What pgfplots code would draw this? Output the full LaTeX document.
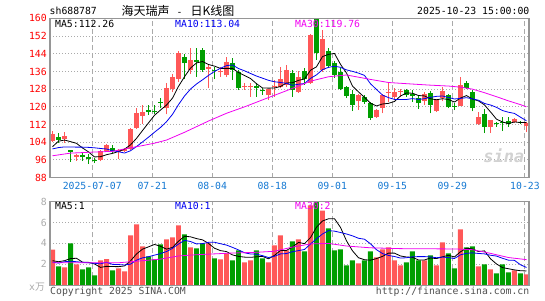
\documentclass[border=0pt]{standalone}
\usepackage{pgfplots}
\pgfplotsset{compat=1.18}
\usepackage{pgfplotstable}
\usepackage{fontspec}
\setmainfont{DejaVu Sans Mono}
\newfontfamily\cjk{Noto Sans CJK SC}
\definecolor{upred}{RGB}{255,88,88}
\definecolor{dngreen}{RGB}{0,158,0}
\definecolor{datebl}{RGB}{20,120,210}
\definecolor{pricered}{RGB}{255,0,0}
\definecolor{maten}{RGB}{0,0,240}
\definecolor{mathirty}{RGB}{240,0,240}
\definecolor{gridc}{RGB}{170,170,170}
\definecolor{bordc}{RGB}{150,150,150}
\definecolor{voltick}{RGB}{170,170,170}
\definecolor{foot}{RGB}{80,80,80}

\pgfplotstableread{
x o h l c v
1 104.6 109.1 104.3 107.6 3.40
3 105.5 108.8 103.7 107.0 1.71
5 97.5 98.5 95.7 98.3 2.00
9 96.0 100.6 95.4 100.1 2.38
10 100.1 103.3 99.8 102.8 2.50
12 99.8 101.0 96.4 100.6 1.62
13 100.0 101.2 99.5 100.8 1.33
14 100.8 110.6 100.5 109.9 4.76
15 110.3 119.3 109.9 117.4 5.81
16 116.0 120.8 112.3 117.8 3.71
20 119.3 130.6 116.6 128.7 4.38
21 127.9 135.0 126.5 133.4 4.57
22 132.6 145.2 131.4 144.5 5.71
24 136.6 146.4 135.0 141.3 3.62
27 137.2 139.5 128.5 137.8 4.00
29 135.6 138.1 133.6 136.1 2.48
30 134.2 142.5 133.6 140.4 3.05
33 129.0 130.8 127.8 129.4 2.19
34 128.8 130.6 124.6 129.3 2.38
37 125.4 128.2 123.0 128.0 2.19
38 129.0 132.1 124.6 129.6 3.81
39 128.8 138.1 128.4 132.8 4.76
40 130.0 138.9 129.1 136.6 3.33
42 126.6 136.0 126.3 133.4 4.38
44 131.0 153.0 130.5 152.5 7.62
46 136.6 154.7 135.8 150.5 7.14
52 122.6 125.8 118.6 125.4 2.10
55 115.6 119.0 115.0 118.6 2.67
56 119.7 126.0 117.1 125.4 3.43
57 126.3 130.6 122.3 126.8 3.62
58 124.6 128.5 123.3 126.6 2.38
59 126.8 128.0 124.6 127.2 1.90
63 122.6 126.5 121.0 125.7 2.38
65 118.1 123.5 117.8 123.1 1.90
66 123.9 129.1 122.5 127.2 4.10
69 120.6 133.6 120.3 129.8 5.33
72 112.1 117.8 111.8 115.6 1.81
74 111.0 114.1 108.1 114.0 1.52
78 113.0 114.8 112.6 114.6 1.43
80 111.5 113.2 108.8 112.6 1.05
}\upc

\pgfplotstableread{
x o h l c v
2 106.4 108.1 103.8 105.2 1.81
4 100.5 100.7 95.2 99.5 4.00
6 98.3 99.0 95.5 97.2 1.52
7 97.5 98.6 94.2 96.3 1.71
8 96.0 97.0 94.6 95.6 0.95
11 101.6 102.8 99.3 100.1 1.43
17 118.4 121.0 116.5 117.9 2.76
18 118.3 120.8 117.0 118.0 2.48
19 122.4 123.9 119.3 121.7 3.90
23 142.7 143.8 132.6 139.7 4.86
25 141.0 146.7 133.5 140.3 3.52
26 145.5 146.7 135.9 136.6 4.00
28 136.6 137.8 132.5 136.0 2.57
31 139.7 142.2 132.1 136.6 2.38
32 135.7 136.6 127.6 128.4 3.33
35 129.6 130.6 124.6 128.6 3.33
36 127.6 128.6 125.4 127.0 2.57
41 135.5 136.6 124.6 127.5 4.19
43 136.3 137.4 130.0 132.6 3.24
45 159.5 162.0 141.2 144.5 8.30
47 145.3 146.8 137.5 138.5 5.43
48 139.7 140.5 133.0 134.6 3.33
49 135.9 137.4 127.5 128.0 3.43
50 128.8 129.5 124.0 124.9 1.90
51 125.7 127.6 118.1 120.9 2.38
53 124.6 125.4 121.5 122.3 2.38
54 121.6 122.0 114.1 114.8 3.24
60 127.6 128.0 124.6 125.4 2.19
61 125.7 127.6 122.3 124.8 3.24
62 124.2 125.0 119.0 121.6 2.38
64 126.1 127.0 117.1 120.8 2.86
67 125.4 126.0 119.3 119.8 3.05
68 120.4 121.8 118.5 120.0 1.62
70 130.9 131.5 128.0 128.7 3.62
71 126.6 127.6 118.0 119.3 3.71
73 116.7 119.0 108.1 111.0 2.00
75 112.8 113.3 111.0 112.4 1.14
76 113.2 115.6 109.0 112.8 2.00
77 113.6 115.3 111.0 112.1 1.24
79 113.2 113.8 112.3 112.8 1.14
}\dnc

\pgfplotstableread{
x m5 m10 vm5 vm10
1 102.0 101.0 2.35 2.22
2 104.5 101.6 2.25 2.12
3 105.0 101.9 2.35 2.25
4 104.3 101.9 2.55 2.30
5 103.52 101.8 2.58 2.25
6 101.44 101.8 2.21 2.20
7 99.66 101.7 2.19 2.15
8 97.38 101.5 2.04 2.10
9 97.5 101.2 1.71 2.05
10 98.4 100.96 1.81 2.20
11 98.98 100.21 1.79 2.00
12 99.84 99.75 1.78 1.98
13 100.88 99.13 1.85 1.94
14 102.84 100.17 2.33 2.02
15 105.76 102.08 2.99 2.40
16 109.3 104.14 3.45 2.62
17 112.76 106.3 3.67 2.73
18 116.2 108.54 3.90 2.88
19 118.56 110.7 3.73 3.03
20 120.82 113.29 3.45 3.22
21 123.94 116.62 3.62 3.53
22 129.26 121.01 4.21 3.94
23 133.6 124.9 4.68 4.29
24 137.52 128.04 4.63 4.18
25 139.84 130.33 4.46 3.95
26 140.48 132.21 4.34 3.98
27 139.14 134.2 4.00 4.10
28 138.4 136.0 3.54 4.11
29 137.36 137.44 3.31 3.97
30 137.38 138.61 3.22 3.84
31 137.38 138.93 2.90 3.62
32 135.5 137.32 2.76 3.38
33 134.18 136.29 2.69 3.11
34 132.82 135.09 2.67 2.99
35 130.46 133.92 2.72 2.97
36 128.54 132.96 2.76 2.83
37 128.46 131.98 2.53 2.65
38 128.5 131.34 2.86 2.77
39 129.2 131.01 3.33 3.00
40 130.8 130.63 3.33 3.03
41 130.9 129.72 3.66 3.21
42 131.98 130.22 4.09 3.31
43 132.58 130.54 3.98 3.42
44 136.52 132.86 4.55 3.94
45 138.1 134.45 5.55 4.44
46 142.7 136.8 6.14 4.90
47 143.72 137.85 6.35 5.22
48 144.12 138.35 6.36 5.17
49 139.22 137.87 5.53 5.04
50 135.3 136.7 4.25 4.90
51 129.38 136.04 3.29 4.72
52 126.76 135.24 2.63 4.49
53 124.3 134.21 2.44 4.40
54 121.66 130.44 2.40 3.96
55 120.4 127.85 2.55 3.40
56 121.3 125.34 2.76 3.03
57 121.58 124.17 3.07 2.85
58 122.44 123.37 3.07 2.75
59 124.92 123.29 2.80 2.60
60 126.28 123.34 2.70 2.63
61 126.16 123.73 2.67 2.72
62 125.12 123.35 2.42 2.74
63 124.94 123.69 2.42 2.74
64 123.66 124.29 2.61 2.71
65 123.2 124.74 2.55 2.63
66 123.68 124.92 2.72 2.70
67 123.32 124.22 2.86 2.64
68 122.18 123.56 2.71 2.56
69 123.98 123.82 3.20 2.91
70 125.1 124.15 3.54 3.05
71 123.52 123.6 3.47 3.10
72 122.68 123.0 3.22 3.04
73 120.88 121.53 3.29 3.00
74 117.72 120.85 2.53 2.87
75 114.46 119.78 2.04 2.79
76 113.16 118.34 1.69 2.58
77 112.46 117.57 1.58 2.40
78 113.18 117.03 1.47 2.38
79 112.94 115.33 1.39 1.96
80 112.98 113.72 1.37 1.70
}\matab

\pgfplotstableread{
x m30
1 97.9
4 99.1
8 99.6
11 99.9
13 101.0
16 102.5
18 103.6
20 105.0
23 108.5
27 113.6
30 117.1
33 120.0
37 124.2
40 127.3
44 131.6
47 133.6
50 134.4
54 132.4
57 131.0
61 130.3
64 129.8
67 129.4
69 128.9
71 128.0
73 126.4
75 124.6
77 122.7
79 121.0
80 120.0
}\mathirtytab

\pgfplotstableread{
x vm30
1 2.15
8 2.15
12 2.15
15 2.30
19 2.50
22 2.80
25 2.92
28 3.00
31 3.08
35 3.15
38 3.25
41 3.65
44 3.95
47 4.00
50 3.75
54 3.58
59 3.50
68 3.47
71 3.40
74 3.05
77 2.65
80 2.45
}\vmathirtytab

\begin{document}
\begin{tikzpicture}
\path[use as bounding box] (0pt,0pt) rectangle (545pt,300pt);
\fontsize{9.8}{10}\selectfont
% ---------------- main price panel
\begin{axis}[
  at={(50pt,122.3pt)}, anchor=south west,
  scale only axis, width=479pt, height=159.4pt,
  xmin=0.583, xmax=80.42, ymin=88, ymax=160,
  xtick={7.63,17.63,27.63,37.63,47.63,57.63,67.63,79.75},
  xticklabels={2025-07-07,07-21,08-04,08-18,09-01,09-15,09-29,10-23},
  ytick={88,96,...,160},
  major tick length=0pt,
  axis line style={draw=bordc, line width=1.2pt},
  tick label style={font=\fontsize{9.8}{10}\selectfont},
  yticklabel style={text=pricered, inner sep=0pt, xshift=-3pt},
  xticklabel style={text=datebl, inner sep=0pt, yshift=-4.5pt},
  /pgf/number format/assume math mode=true,
  axis on top,
]
\pgfplotsinvokeforeach{96,104,112,120,128,136,144,152}{
  \draw[gridc, line width=1pt, dash pattern=on 1pt off 2pt] (axis cs:0.583,#1) -- (axis cs:80.42,#1);
}
\pgfplotsinvokeforeach{7.63,17.63,27.63,37.63,47.63,57.63,67.63,79.75}{
  \draw[gridc, line width=1pt, dash pattern=on 5pt off 3pt] (axis cs:#1,88) -- (axis cs:#1,160);
}
\node[text=gray!35, font=\fontsize{17}{17}\selectfont\bfseries\itshape, anchor=east] at (axis cs:80.2,98) {sina};
% wicks
\addplot[draw=none, mark=none, forget plot, error bars/.cd, y dir=plus, y explicit, error mark=none,
  error bar style={draw=upred, line width=1pt}]
  table[x=x, y=l, y error expr=\thisrow{h}-\thisrow{l}] {\upc};
\addplot[draw=none, mark=none, forget plot, error bars/.cd, y dir=plus, y explicit, error mark=none,
  error bar style={draw=dngreen, line width=1pt}]
  table[x=x, y=l, y error expr=\thisrow{h}-\thisrow{l}] {\dnc};
% bodies
\addplot[draw=none, mark=none, forget plot, error bars/.cd, y dir=plus, y explicit, error mark=none,
  error bar style={draw=upred, line width=4.8pt, line cap=butt}]
  table[x=x, y=o, y error expr=\thisrow{c}-\thisrow{o}] {\upc};
\addplot[draw=none, mark=none, forget plot, error bars/.cd, y dir=plus, y explicit, error mark=none,
  error bar style={draw=dngreen, line width=4.8pt, line cap=butt}]
  table[x=x, y=c, y error expr=\thisrow{o}-\thisrow{c}] {\dnc};
% moving averages
\addplot[black, line width=0.8pt, mark=none] table[x=x, y=m5] {\matab};
\addplot[maten, line width=0.8pt, mark=none] table[x=x, y=m10] {\matab};
\addplot[mathirty, line width=0.8pt, mark=none] table[x=x, y=m30] {\mathirtytab};
\end{axis}

% ---------------- volume panel
\begin{axis}[
  at={(50pt,14.7pt)}, anchor=south west,
  scale only axis, width=479pt, height=83.8pt,
  xmin=0.583, xmax=80.42, ymin=0, ymax=8,
  xtick={7.63,17.63,27.63,37.63,47.63,57.63,67.63,79.75},
  xticklabels={},
  ytick={2,4,6,8},
  major tick length=0pt,
  axis line style={draw=bordc, line width=1.2pt},
  tick label style={font=\fontsize{9.8}{10}\selectfont},
  yticklabel style={text=voltick, inner sep=0pt, xshift=-3pt},
  /pgf/number format/assume math mode=true,
  axis on top,
]
\pgfplotsinvokeforeach{2,4,6}{
  \draw[gridc, line width=1pt, dash pattern=on 1pt off 2pt] (axis cs:0.583,#1) -- (axis cs:80.42,#1);
}
\pgfplotsinvokeforeach{7.63,17.63,27.63,37.63,47.63,57.63,67.63,79.75}{
  \draw[gridc, line width=1pt, dash pattern=on 5pt off 3pt] (axis cs:#1,0) -- (axis cs:#1,8);
}
\addplot[ybar, bar width=0.833, bar shift=0pt, fill=upred, draw=none] table[x=x, y=v] {\upc};
\addplot[ybar, bar width=0.833, bar shift=0pt, fill=dngreen, draw=none] table[x=x, y=v] {\dnc};
\addplot[black, line width=0.8pt, mark=none] table[x=x, y=vm5] {\matab};
\addplot[maten, line width=0.8pt, mark=none] table[x=x, y=vm10] {\matab};
\addplot[mathirty, line width=0.8pt, mark=none] table[x=x, y=vm30] {\vmathirtytab};
\end{axis}

% ---------------- texts
\node[anchor=west, inner sep=0pt] at (49.5pt,289pt) {sh688787};
\node[anchor=west, inner sep=0pt] at (121.5pt,289pt) {{\cjk\fontsize{12}{12}\selectfont 海天瑞声}\hspace{7pt}-\hspace{8pt}{\cjk\fontsize{12}{12}\selectfont 日K线图}};
\node[anchor=east, inner sep=0pt] at (529.5pt,289pt) {2025-10-23 15:00:00};
\node[anchor=west, inner sep=0pt] at (55pt,276pt) {MA5:112.26};
\node[anchor=west, inner sep=0pt, text=maten] at (175pt,276pt) {MA10:113.04};
\node[anchor=west, inner sep=0pt, text=mathirty] at (295pt,276pt) {MA30:119.76};
\node[anchor=west, inner sep=0pt] at (55pt,94pt) {MA5:1};
\node[anchor=west, inner sep=0pt, text=maten] at (175pt,94pt) {MA10:1};
\node[anchor=west, inner sep=0pt, text=mathirty] at (295pt,94pt) {MA30:2};
\node[anchor=east, inner sep=0pt, text=voltick] at (45pt,13pt) {x{\cjk 万}};
\node[anchor=west, inner sep=0pt, text=foot] at (50pt,8pt) {Copyright 2025 SINA.COM};
\node[anchor=east, inner sep=0pt, text=foot] at (529.5pt,8pt) {http://finance.sina.com.cn};
\end{tikzpicture}
\end{document}
